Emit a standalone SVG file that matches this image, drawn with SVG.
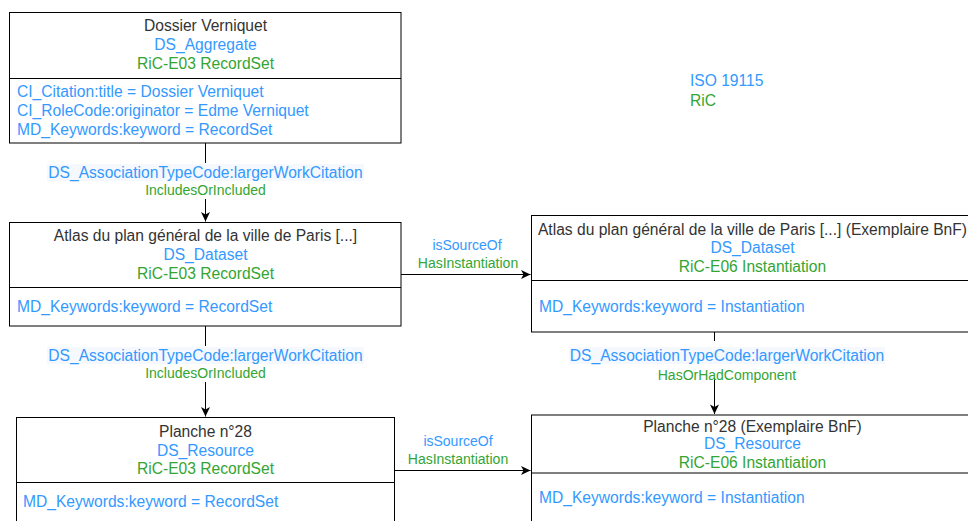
<svg xmlns="http://www.w3.org/2000/svg" width="968" height="521" viewBox="0 0 968 521">
<defs>
<style>
text{font-family:"Liberation Sans",Arial,sans-serif;font-size:15.6px}
.t{fill:#333333;text-anchor:middle}
.b{fill:#3399ff}
.g{fill:#33a533}
.c{text-anchor:middle}
.s{font-size:14px}
.box{fill:#ffffff;stroke:#000000;stroke-width:1}
.ln{stroke:#000000;stroke-width:1;fill:none}
.edge{stroke:#000000;stroke-width:1;fill:none;marker-end:url(#arr)}
.lbg{fill:#ffffff}
.lbt{fill:#f5f8fc}
</style>
<marker id="arr" markerUnits="userSpaceOnUse" viewBox="-10 -5 11 10" refX="0" refY="0" markerWidth="11" markerHeight="10" orient="auto">
<path d="M-9.5,-4.5 L0,0 L-9.5,4.5 L-7,0 Z" fill="#000000"/>
</marker>
</defs>
<rect width="968" height="521" fill="#ffffff"/>

<g id="connectors">
<path class="edge" d="M205.5,143 L205.5,221.5"/>
<rect class="lbg" x="47" y="163" width="317" height="36"/>
<rect class="lbt" x="47" y="164" width="317" height="17"/>
<text class="b c" x="205.5" y="177.5">DS_AssociationTypeCode:largerWorkCitation</text>
<text class="g c s" x="205.5" y="194.5">IncludesOrIncluded</text>

<path class="edge" d="M205.5,326 L205.5,416.5"/>
<rect class="lbg" x="47" y="346" width="317" height="36"/>
<rect class="lbt" x="47" y="347" width="317" height="17"/>
<text class="b c" x="205.5" y="360.5">DS_AssociationTypeCode:largerWorkCitation</text>
<text class="g c s" x="205.5" y="378">IncludesOrIncluded</text>

<path class="edge" d="M714.5,332 L714.5,414"/>
<rect class="lbg" x="569" y="341" width="316" height="37"/>
<rect class="lbt" x="569" y="347" width="316" height="17"/>
<text class="b c" x="727" y="360.5">DS_AssociationTypeCode:largerWorkCitation</text>
<text class="g c s" x="727" y="380">HasOrHadComponent</text>

<path class="edge" d="M401,274.5 L530.5,274.5"/>
<text class="b c s" x="467" y="250">isSourceOf</text>
<text class="g c s" x="468" y="268">HasInstantiation</text>

<path class="edge" d="M395,470.5 L530.5,470.5"/>
<text class="b c s" x="458" y="446">isSourceOf</text>
<text class="g c s" x="458" y="464">HasInstantiation</text>
</g>

<g id="node-dossier">
<rect class="box" x="9.5" y="12.5" width="391.5" height="130.5"/>
<path class="ln" d="M9.5,78.5 L401,78.5"/>
<text class="t" x="205.5" y="30.5">Dossier Verniquet</text>
<text class="b c" x="205.5" y="49.5">DS_Aggregate</text>
<text class="g c" x="205.5" y="68.5">RiC-E03 RecordSet</text>
<text class="b" x="17" y="96.5">CI_Citation:title = Dossier Verniquet</text>
<text class="b" x="17" y="115.5">CI_RoleCode:originator = Edme Verniquet</text>
<text class="b" x="17" y="134.5">MD_Keywords:keyword = RecordSet</text>
</g>

<g id="node-atlas">
<rect class="box" x="9.5" y="222.5" width="391.5" height="103.5"/>
<path class="ln" d="M9.5,287.5 L401,287.5"/>
<text class="t" x="205.5" y="240.5">Atlas du plan général de la ville de Paris [...]</text>
<text class="b c" x="205.5" y="259.5">DS_Dataset</text>
<text class="g c" x="205.5" y="278.5">RiC-E03 RecordSet</text>
<text class="b" x="17" y="311.5">MD_Keywords:keyword = RecordSet</text>
</g>

<g id="node-atlas-bnf">
<rect class="box" x="531.5" y="215.5" width="445" height="116.5"/>
<path class="ln" d="M531.5,280.5 L976,280.5"/>
<text class="t" x="752.5" y="234.5">Atlas du plan général de la ville de Paris [...] (Exemplaire BnF)</text>
<text class="b c" x="752.5" y="253">DS_Dataset</text>
<text class="g c" x="752.5" y="271.5">RiC-E06 Instantiation</text>
<text class="b" x="539" y="311.5">MD_Keywords:keyword = Instantiation</text>
</g>

<g id="node-planche">
<rect class="box" x="16.5" y="417.5" width="378" height="120"/>
<path class="ln" d="M16.5,482.5 L394.5,482.5"/>
<text class="t" x="205.5" y="437">Planche n°28</text>
<text class="b c" x="205.5" y="455.5">DS_Resource</text>
<text class="g c" x="205.5" y="474">RiC-E03 RecordSet</text>
<text class="b" x="23" y="507">MD_Keywords:keyword = RecordSet</text>
</g>

<g id="node-planche-bnf">
<rect class="box" x="531.5" y="415" width="445" height="120"/>
<path class="ln" d="M531.5,473 L976,473"/>
<text class="t" x="752.5" y="432">Planche n°28 (Exemplaire BnF)</text>
<text class="b c" x="752.5" y="449">DS_Resource</text>
<text class="g c" x="752.5" y="468">RiC-E06 Instantiation</text>
<text class="b" x="539" y="503">MD_Keywords:keyword = Instantiation</text>
</g>

<g id="legend">
<text class="b" x="690" y="86">ISO 19115</text>
<text class="g" x="690" y="105.5">RiC</text>
</g>
</svg>
